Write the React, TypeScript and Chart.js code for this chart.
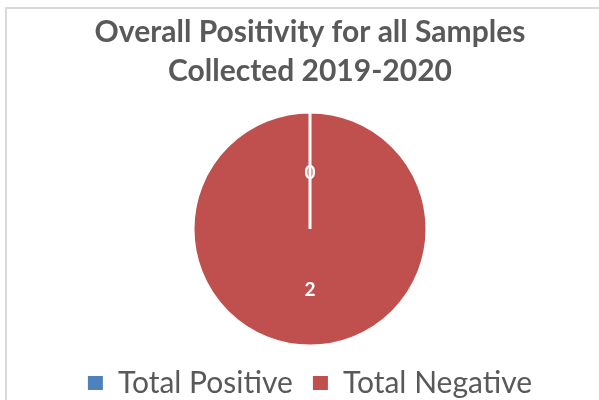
import React, { useEffect, useRef } from "react";
import { Chart, registerables } from "chart.js";

Chart.register(...registerables);

const categories = ["Total Positive", "Total Negative"];
const values = [0, 2];
const sliceColors = ["#4F81BD", "#C0504D"];
const titleLines = ["Overall Positivity for all Samples", "Collected 2019-2020"];

const frame = {
  id: "frame",
  beforeDraw(chart: any) {
    const ctx = chart.ctx;
    ctx.save();
    ctx.fillStyle = "#FFFFFF";
    ctx.fillRect(0, 0, chart.width, chart.height);
    ctx.strokeStyle = "#D9D9D9";
    ctx.lineWidth = 2;
    ctx.strokeRect(6, 8, chart.width + 20, chart.height + 20);
    ctx.restore();
  },
};

const sliceLabels = {
  id: "sliceLabels",
  afterDatasetsDraw(chart: any) {
    const ctx = chart.ctx;
    const meta = chart.getDatasetMeta(0);
    ctx.save();
    ctx.fillStyle = "#FFFFFF";
    ctx.font = "bold 19px Lato, 'Open Sans', sans-serif";
    ctx.textAlign = "center";
    ctx.textBaseline = "middle";
    meta.data.forEach((arc: any, i: number) => {
      const p = arc.tooltipPosition();
      ctx.fillText(String(values[i]), p.x, p.y + 2);
    });
    ctx.restore();
  },
};

export default function App() {
  const ref = useRef<HTMLCanvasElement | null>(null);
  useEffect(() => {
    if (!ref.current) return;
    const chart = new Chart(ref.current, {
      type: "pie",
      data: {
        labels: categories,
        datasets: [
          {
            data: values,
            backgroundColor: sliceColors,
            borderColor: "#FFFFFF",
            borderWidth: 3,
            radius: 117,
          },
        ],
      },
      options: {
        responsive: false,
        animation: false,
        layout: { padding: { top: 0, bottom: -8, left: 21, right: 0 } },
        plugins: {
          title: {
            display: true,
            text: titleLines,
            color: "#595959",
            font: { family: "Lato", size: 30, weight: "bold", lineHeight: 1.3 },
            padding: { top: 13, bottom: 19 },
          },
          legend: {
            display: true,
            position: "bottom",
            labels: {
              color: "#595959",
              font: { family: "Lato", size: 30 },
              boxWidth: 15,
              boxHeight: 14,
              padding: 20,
              generateLabels(c: any) {
                const items = Chart.overrides.pie.plugins.legend.labels.generateLabels(c);
                return items.map((it: any) => ({ ...it, lineWidth: 0 }));
              },
            },
          },
          tooltip: { enabled: false },
        },
      },
      plugins: [frame, sliceLabels],
    });
    return () => chart.destroy();
  }, []);
  return (
    <div style={{ position: "absolute", left: 0, top: 0, width: 599, height: 400 }}>
      <canvas ref={ref} width={599} height={400} />
    </div>
  );
}
